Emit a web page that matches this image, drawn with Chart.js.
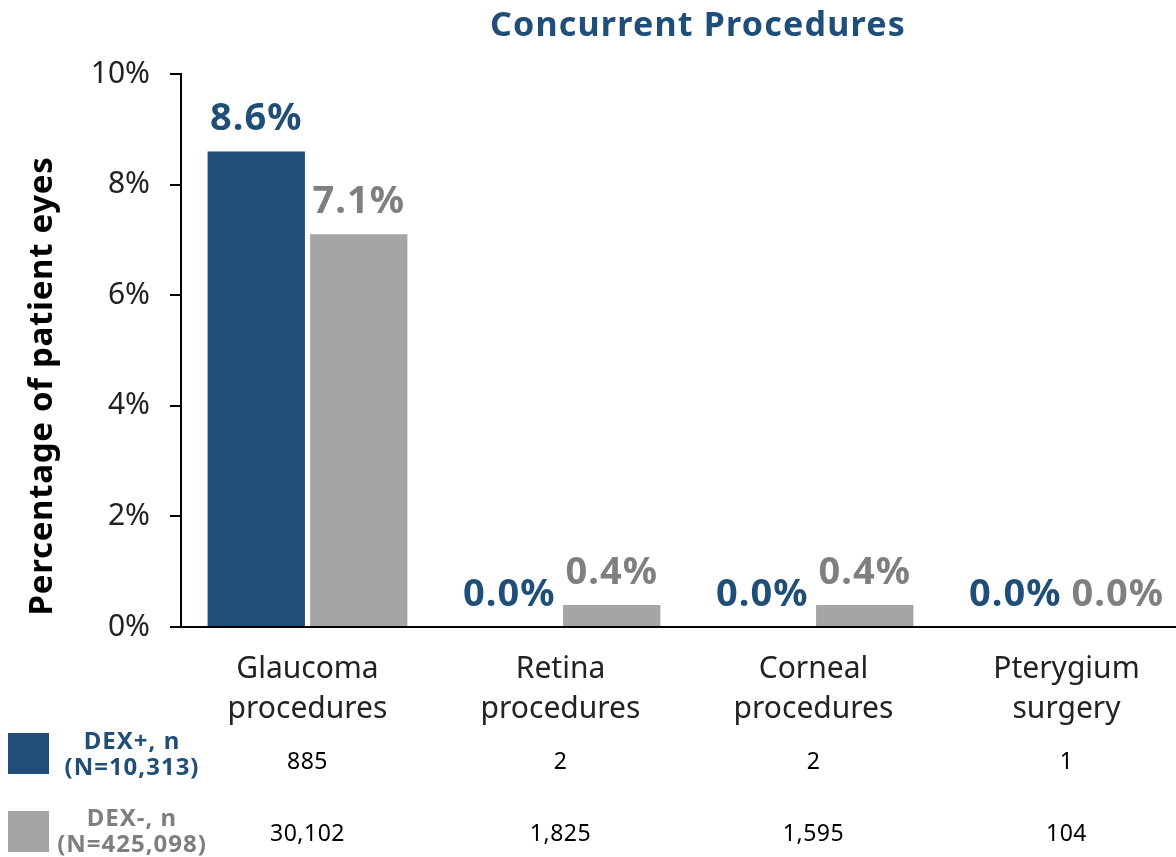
<!DOCTYPE html>
<html>
<head>
<meta charset="utf-8">
<script src="https://cdn.jsdelivr.net/npm/chart.js@4.4.1/dist/chart.umd.min.js"></script>
<style>
  html, body { margin: 0; padding: 0; background: #fff; overflow: hidden; }
  #wrap { width: 1194px; height: 857px; }
</style>
</head>
<body>
<div id="wrap"><canvas id="procChart" width="1194" height="857"></canvas></div>
<script>
// Data
const categories = [['Glaucoma', 'procedures'], ['Retina', 'procedures'], ['Corneal', 'procedures'], ['Pterygium', 'surgery']];
const dexPlus = [8.6, 0.0, 0.0, 0.0];
const dexMinus = [7.1, 0.4, 0.4, 0.0];
const dexPlusN = [885, 2, 2, 1];
const dexMinusN = [30102, 1825, 1595, 104];
const yTicks = [0, 2, 4, 6, 8, 10];
const rowLabels = [['DEX+, n', '(N=10,313)'], ['DEX-, n', '(N=425,098)']];

const BLUE = '#1F4E79';
const GREY = '#A5A5A5';
const GREY_TEXT = '#7F7F7F';
const FONT = '"Noto Sans", "Open Sans", sans-serif';

// value labels above bars, title, y-axis title and the count table
const extras = {
    id: 'extras',
    afterDatasetsDraw(chart) {
        const ctx = chart.ctx;
        ctx.save();
        ctx.textAlign = 'center';
        ctx.textBaseline = 'alphabetic';
        ctx.font = 'bold 38px ' + FONT;
        ctx.letterSpacing = '1px';
        chart.data.datasets.forEach((ds, i) => {
            const meta = chart.getDatasetMeta(i);
            meta.data.forEach((bar, j) => {
                ctx.fillStyle = i === 0 ? BLUE : GREY_TEXT;
                ctx.fillText(ds.data[j].toFixed(1) + '%', bar.x, bar.y - 21);
            });
        });
        ctx.restore();
    },
    afterDraw(chart) {
        const ctx = chart.ctx;
        const x = chart.scales.x;
        ctx.save();
        // title
        ctx.fillStyle = BLUE;
        ctx.font = 'bold 34px ' + FONT;
        ctx.letterSpacing = '1.2px';
        ctx.textAlign = 'center';
        ctx.textBaseline = 'middle';
        ctx.fillText('Concurrent Procedures', 698, 26);

        // y axis title
        ctx.save();
        ctx.translate(43, 386);
        ctx.rotate(-Math.PI / 2);
        ctx.fillStyle = '#000';
        ctx.font = 'bold 33px ' + FONT;
        ctx.letterSpacing = '0.7px';
        ctx.fillText('Percentage of patient eyes', 0, 0);
        ctx.restore();

        // table rows
        const rows = [
            { color: BLUE, text: BLUE, counts: dexPlusN, box: 733, l1: 749, l2: 775, cy: 762 },
            { color: GREY, text: GREY_TEXT, counts: dexMinusN, box: 811, l1: 826, l2: 852, cy: 834 }
        ];
        rows.forEach((r, k) => {
            ctx.fillStyle = r.color;
            ctx.fillRect(8, r.box, 41, 41);
            ctx.fillStyle = r.text;
            ctx.font = 'bold 24px ' + FONT;
            ctx.letterSpacing = '1px';
            ctx.textAlign = 'center';
            ctx.textBaseline = 'alphabetic';
            ctx.fillText(rowLabels[k][0], 132, r.l1);
            ctx.fillText(rowLabels[k][1], 132, r.l2);
            ctx.fillStyle = '#000';
            ctx.font = '23px ' + FONT;
            ctx.letterSpacing = '0.5px';
            ctx.textBaseline = 'middle';
            r.counts.forEach((n, j) => {
                ctx.fillText(n.toLocaleString('en-US'), x.getPixelForValue(j), r.cy);
            });
        });
        ctx.restore();
    }
};

new Chart(document.getElementById('procChart'), {
    type: 'bar',
    data: {
        labels: categories,
        datasets: [
            { label: 'DEX+', data: dexPlus, backgroundColor: BLUE },
            { label: 'DEX-', data: dexMinus, backgroundColor: GREY }
        ]
    },
    options: {
        responsive: false,
        animation: false,
        layout: { padding: { top: 74, right: 1, left: 0, bottom: 0 } },
        datasets: { bar: { categoryPercentage: 0.81, barPercentage: 0.95 } },
        plugins: { legend: { display: false }, tooltip: { enabled: false } },
        scales: {
            x: {
                grid: { display: false, drawTicks: false },
                border: { color: '#000', width: 2 },
                ticks: { color: '#222', padding: 23, font: { family: FONT, size: 30, lineHeight: 1.33 } },
                afterFit(s) { s.height = 230; }
            },
            y: {
                min: 0,
                max: 10,
                afterBuildTicks(s) { s.ticks = yTicks.map(v => ({ value: v })); },
                grid: { drawOnChartArea: false, color: '#000', lineWidth: 2, tickLength: 11 },
                border: { color: '#000', width: 2 },
                ticks: {
                    color: '#222',
                    padding: 20,
                    font: { family: FONT, size: 30 },
                    callback: v => v + '%'
                },
                afterFit(s) { s.width = 181; }
            }
        }
    },
    plugins: [extras]
});
</script>
</body>
</html>
